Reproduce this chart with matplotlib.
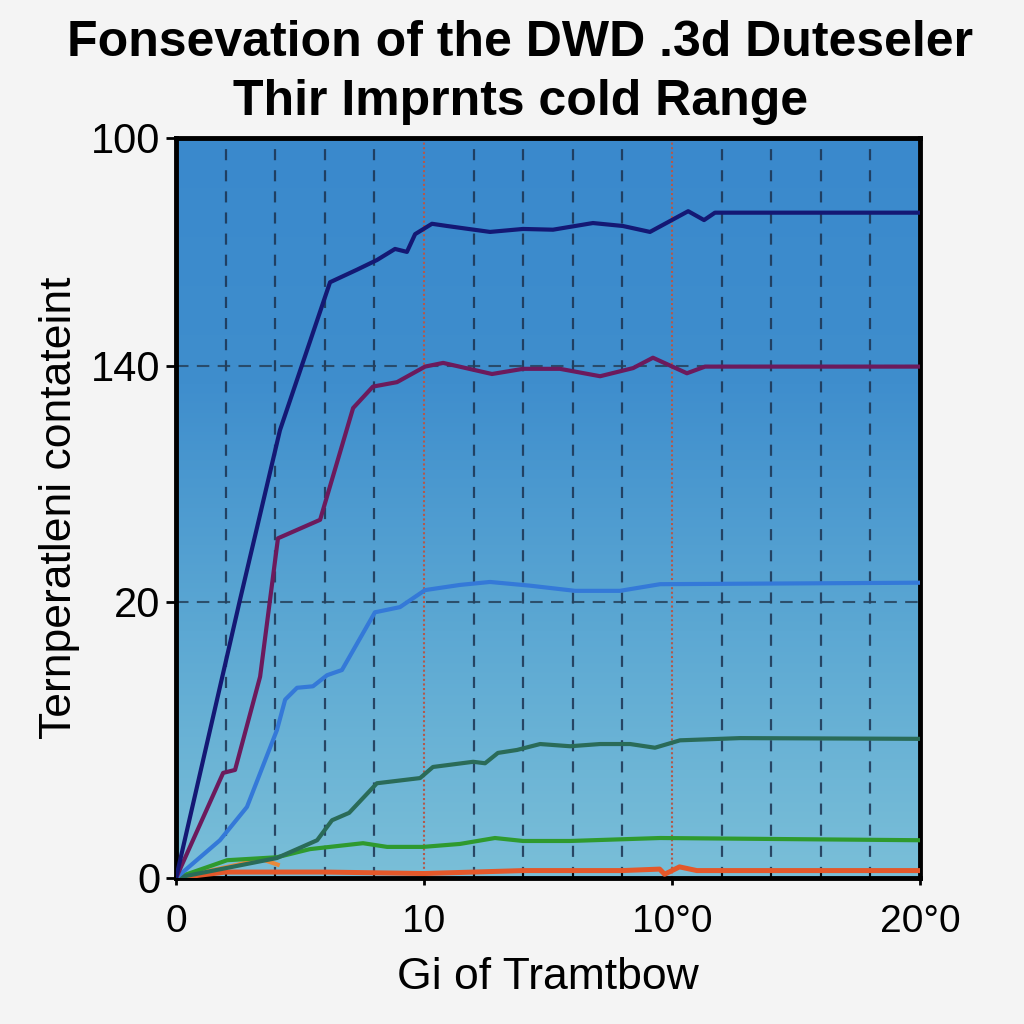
import numpy as np
import matplotlib
matplotlib.use("Agg")
from matplotlib import pyplot as plt
from matplotlib.colors import LinearSegmentedColormap

# data (x in axis units, y in plotted units 0..100)
navy_x = [0, 2.58, 4.19, 6.21, 7.30, 8.10, 8.83, 9.31, 9.64, 10.32, 10.93, 12.66, 13.99, 15.20, 16.81, 18.02, 19.11, 20.65, 21.29, 21.73, 30]
navy_y = [0, 37.6, 60.5, 80.5, 82.2, 83.5, 85.0, 84.6, 87.0, 88.4, 88.1, 87.3, 87.7, 87.6, 88.5, 88.1, 87.3, 90.1, 88.9, 89.9, 89.9]

purple_x = [0, 1.90, 2.38, 3.39, 4.11, 5.81, 7.14, 7.94, 8.91, 10.04, 10.77, 12.74, 13.99, 15.48, 17.10, 18.43, 19.23, 20.60, 21.33, 30]
purple_y = [0, 14.2, 14.6, 27.2, 45.9, 48.4, 63.5, 66.4, 67.0, 69.1, 69.6, 68.1, 68.8, 68.8, 67.8, 68.9, 70.3, 68.2, 69.1, 69.1]

blue_x = [0, 1.77, 2.86, 4.07, 4.40, 4.88, 5.52, 6.09, 6.69, 8.02, 9.03, 10.04, 11.45, 12.66, 14.27, 16.09, 17.90, 19.52, 30]
blue_y = [0, 5.1, 9.6, 20.0, 24.1, 25.7, 25.9, 27.4, 28.1, 35.9, 36.6, 38.9, 39.6, 40.0, 39.5, 38.8, 38.8, 39.7, 39.9]

teal_x = [0, 4.07, 5.69, 6.29, 6.98, 8.10, 9.84, 10.36, 11.98, 12.46, 12.98, 13.75, 14.68, 15.89, 17.10, 18.31, 19.31, 20.32, 22.74, 30]
teal_y = [0, 2.7, 5.1, 7.8, 8.8, 12.8, 13.5, 15.0, 15.7, 15.5, 16.9, 17.3, 18.1, 17.8, 18.1, 18.1, 17.6, 18.6, 18.9, 18.8]

green_x = [0, 2.06, 4.07, 5.40, 7.54, 8.51, 9.96, 11.45, 12.86, 13.99, 15.89, 19.52, 30]
green_y = [0, 2.4, 2.8, 3.9, 4.7, 4.2, 4.2, 4.6, 5.4, 5.0, 5.0, 5.4, 5.1]

lorange_x = [0, 2.5, 3.4, 4.1]
lorange_y = [0, 1.8, 2.6, 1.8]

orange_x = [0, 2, 6, 10, 14, 18, 19.5, 19.7, 20.3, 21, 30]
orange_y = [0, 0.8, 0.8, 0.6, 1.0, 1.0, 1.2, 0.5, 1.5, 1.0, 1.0]

xticks = [0, 10, 20, 30]
xlabels = ['0', '10', '10°0', '20°0']
yticks = [0, 37.3, 69.2, 100]
ylabels = ['0', '20', '140', '100']

fig = plt.figure(figsize=(10.24, 10.24), dpi=100, facecolor='#f4f4f4')
ax = fig.add_axes([0.1719, 0.1426, 0.7266, 0.7227])
ax.set_xlim(0, 30)
ax.set_ylim(0, 100)

# gradient background
cmap = LinearSegmentedColormap.from_list('bg', ['#7abfd8', '#5ca8d3', '#3f8ecd', '#3a89cc'])
grad = np.linspace(0, 1, 256).reshape(-1, 1)
ax.imshow(grad, extent=[0, 30, 0, 100], origin='lower', aspect='auto', cmap=cmap, zorder=0)

# grid
for gx in range(2, 30, 2):
    if gx in (10, 20):
        ax.axvline(gx, color='#b3584a', lw=1.5, ls=(0, (1, 1.2)), zorder=1)
    else:
        ax.axvline(gx, color='#1b3250', lw=1.6, ls=(0, (5, 4.5)), alpha=0.85, zorder=1)
for gy in yticks[1:3]:
    ax.axhline(gy, color='#25405a', lw=1.5, ls=(0, (6, 4)), alpha=0.85, zorder=1)

lw = 3.0
ax.plot(orange_x, orange_y, color='#e4582a', lw=lw + 0.6, zorder=3)
ax.plot(lorange_x, lorange_y, color='#e88a3c', lw=lw, zorder=3)
ax.plot(green_x, green_y, color='#2f9a2e', lw=lw, zorder=3)
ax.plot(teal_x, teal_y, color='#2a6b58', lw=lw, zorder=3)
ax.plot(blue_x, blue_y, color='#3479d8', lw=lw, zorder=3)
ax.plot(purple_x, purple_y, color='#6c1a5c', lw=lw, zorder=3)
ax.plot(navy_x, navy_y, color='#141874', lw=lw, zorder=3)

for s in ax.spines.values():
    s.set_linewidth(3.5)
    s.set_color('black')

ax.set_xticks(xticks)
ax.set_xticklabels(xlabels, fontsize=28, family='Liberation Sans')
ax.set_yticks(yticks)
ax.set_yticklabels(ylabels, fontsize=30, family='Liberation Sans')
ax.set_xticks(range(2, 30, 2), minor=True)
ax.tick_params(axis='x', which='major', length=5, width=2, direction='out', pad=14)
ax.tick_params(axis='x', which='minor', length=5, width=1.2, direction='in')
ax.tick_params(axis='y', which='major', length=7, width=2, direction='out', pad=4)

ax.set_xlabel('Gi of Tramtbow', fontsize=32, family='Liberation Sans', labelpad=12)
ax.set_ylabel('Ternperatleni contateint', fontsize=32, family='Liberation Sans', labelpad=8)

fig.text(0.508, 0.958, 'Fonsevation of the DWD .3d Duteseler', ha='center', va='center',
         fontsize=36, fontweight='bold', family='Liberation Sans')
fig.text(0.508, 0.900, 'Thir Imprnts cold Range', ha='center', va='center',
         fontsize=36, fontweight='bold', family='Liberation Sans')

fig.savefig('out.png', dpi=100, facecolor=fig.get_facecolor())
